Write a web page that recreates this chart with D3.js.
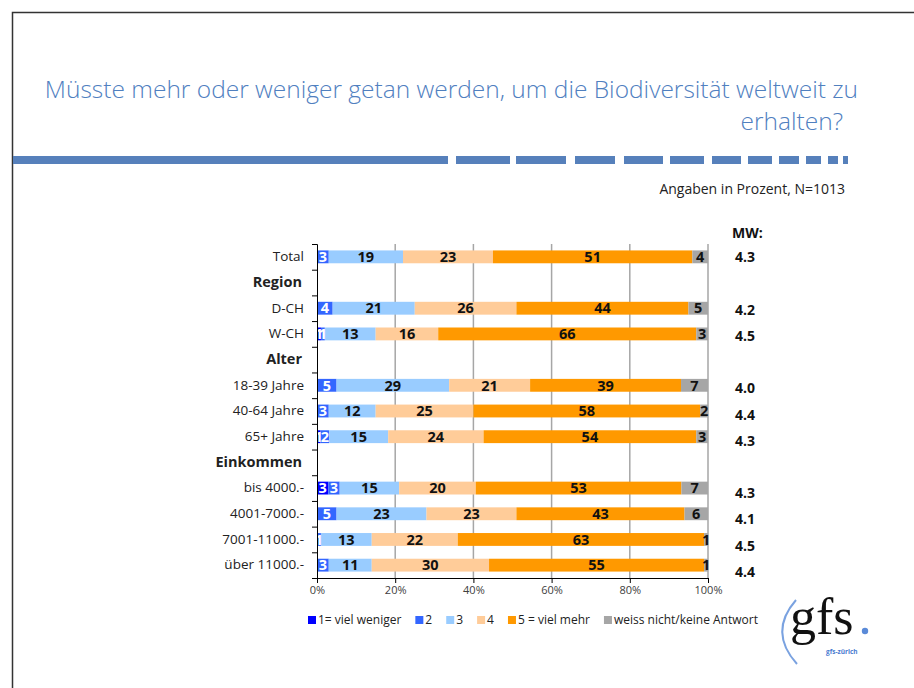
<!DOCTYPE html>
<html>
<head>
<meta charset="utf-8">
<script src="https://cdn.jsdelivr.net/npm/d3@7"></script>
<style>
    body { margin: 0; background: #fff; }
    svg { display: block; font-family: "Open Sans", "Noto Sans", sans-serif; }
</style>
</head>
<body>
<svg id="chart" width="914" height="688"></svg>
<script>
// categories, header rows carry no bars
var categories = ["Total", "Region", "D-CH", "W-CH", "Alter", "18-39 Jahre", "40-64 Jahre", "65+ Jahre",
    "Einkommen", "bis 4000.-", "4001-7000.-", "7001-11000.-", "über 11000.-"];
var headers = ["Region", "Alter", "Einkommen"];

var seriesNames = ["1= viel weniger", "2", "3", "4", "5 = viel mehr", "weiss nicht/keine Antwort"];
var seriesColors = ["#0000ff", "#3366ff", "#99ccff", "#ffcc99", "#ff9900", "#a6a6a6"];

var vielWeniger = [0, null, 0, 1, null, 0, 0, 0.9, null, 2.9, 0, 0, 0];
var eherWeniger = [3, null, 4, 1, null, 5, 3, 2.2, null, 2.9, 5, 1, 3];
var gleich      = [19, null, 21, 13, null, 28.8, 12, 15.1, null, 15.2, 23, 13, 11];
var eherMehr    = [23, null, 26, 16, null, 20.7, 25, 24.4, null, 19.6, 23, 22, 30];
var vielMehr    = [51, null, 44, 66, null, 38.6, 58, 54.4, null, 52.6, 43, 63, 55];
var weissNicht  = [4, null, 5, 3, null, 6.9, 2, 3, null, 6.8, 6, 1, 1];

var mittelwerte = ["4.3", null, "4.2", "4.5", null, "4.0", "4.4", "4.3", null, "4.3", "4.1", "4.5", "4.4"];
var xTicks = [0, 20, 40, 60, 80, 100];

var titleLines = ["Müsste mehr oder weniger getan werden, um die Biodiversität weltweit zu", "erhalten?"];
var subtitle = "Angaben in Prozent, N=1013";

(function () {
    var svg = d3.select("#chart");
    var blue = "#5080bf";

    // frame of the slide
    svg.append("path")
        .attr("d", "M12.5,688 V12.5 H914")
        .attr("fill", "none")
        .attr("stroke", "#333")
        .attr("stroke-width", 1.5);

    // title
    svg.append("text").attr("x", 858).attr("y", 98)
        .attr("text-anchor", "end").attr("font-size", 24.5).attr("font-weight", 300)
        .attr("fill", blue).text(titleLines[0]);
    svg.append("text").attr("x", 843).attr("y", 130)
        .attr("text-anchor", "end").attr("font-size", 24.5).attr("font-weight", 300)
        .attr("fill", blue).text(titleLines[1]);

    // dashed rule under the title
    var dashes = [[13, 448], [456, 510], [516, 566], [575, 615], [624, 663], [670, 704],
        [712, 741], [748, 772], [779, 799], [806, 821], [828, 838], [843, 848]];
    svg.append("g").selectAll("rect").data(dashes).enter().append("rect")
        .attr("x", function (d) { return d[0]; })
        .attr("width", function (d) { return d[1] - d[0]; })
        .attr("y", 156).attr("height", 8)
        .attr("fill", "#5680bb");

    svg.append("text").attr("x", 845).attr("y", 194)
        .attr("text-anchor", "end").attr("font-size", 14).attr("fill", "#222")
        .text(subtitle);

    // scales
    var x = d3.scaleLinear().domain([0, 100]).range([317, 708]);
    var y = d3.scaleBand().domain(categories).range([244, 578]).paddingInner(0.5).paddingOuter(0.25);
    var yTicks = d3.scaleLinear().domain([0, categories.length]).range([244, 578]);
    var yMw = d3.scaleBand().domain(categories).range([244, 585]);

    // gridlines
    svg.append("g").selectAll("line").data(xTicks.slice(1)).enter().append("line")
        .attr("x1", function (d) { return x(d); }).attr("x2", function (d) { return x(d); })
        .attr("y1", 244).attr("y2", 578)
        .attr("stroke", "#a6a6a6").attr("stroke-width", 1.5);

    // stacked bars
    var series = [vielWeniger, eherWeniger, gleich, eherMehr, vielMehr, weissNicht];
    var rows = categories.map(function (c, i) {
        var row = {cat: c};
        series.forEach(function (s, k) { row["s" + k] = s[i] || 0; });
        row.empty = headers.indexOf(c) >= 0;
        return row;
    });
    var stack = d3.stack().keys(series.map(function (s, k) { return "s" + k; }));
    var layers = stack(rows.filter(function (r) { return !r.empty; }));
    var fmt = d3.format(".0f");

    var g = svg.append("g").selectAll("g").data(layers).enter().append("g")
        .attr("fill", function (d, k) { return seriesColors[k]; });
    g.selectAll("rect").data(function (d) { return d; }).enter().append("rect")
        .attr("x", function (d) { return x(d[0]); })
        .attr("width", function (d) { return x(d[1]) - x(d[0]); })
        .attr("y", function (d) { return y(d.data.cat); })
        .attr("height", y.bandwidth());

    var lbl = svg.append("g").attr("font-size", 14.5).attr("font-weight", 700).attr("text-anchor", "middle");
    layers.forEach(function (layer, k) {
        lbl.append("g").attr("fill", k < 2 ? "#fff" : "#111")
            .selectAll("text").data(layer.filter(function (d) { return d[1] - d[0] >= 0.5; }))
            .enter().append("text")
            .attr("x", function (d) { return (x(d[0]) + x(d[1])) / 2; })
            .attr("y", function (d) { return y(d.data.cat) + y.bandwidth() / 2; })
            .attr("dy", "0.36em")
            .text(function (d) { return fmt(d[1] - d[0]); });
    });

    // y axis
    svg.append("g").attr("transform", "translate(317,0)")
        .call(d3.axisLeft(yTicks).tickValues(d3.range(categories.length + 1)).tickSize(5).tickFormat(""))
        .call(function (a) { a.selectAll("path,line").attr("stroke", "#000"); });
    var yl = svg.append("g").attr("transform", "translate(317,0)")
        .call(d3.axisLeft(y).tickSize(0).tickPadding(13));
    yl.select(".domain").remove();
    yl.selectAll("text").attr("fill", "#222")
        .attr("font-family", "\"Open Sans\", sans-serif")
        .attr("font-weight", function (d) { return headers.indexOf(d) >= 0 ? 700 : 400; })
        .attr("font-size", function (d) { return headers.indexOf(d) >= 0 ? 14.5 : 13.5; })
        .attr("dx", function (d) { return headers.indexOf(d) >= 0 ? -2 : 0; });

    // x axis
    var xa = svg.append("g").attr("transform", "translate(0,578)")
        .call(d3.axisBottom(x).tickValues(xTicks).tickSize(5).tickSizeOuter(0).tickPadding(3)
            .tickFormat(function (d) { return d + "%"; }));
    xa.selectAll("path,line").attr("stroke", "#000");
    xa.selectAll("text").attr("font-size", 11).attr("fill", "#404040")
        .attr("font-family", "\"Open Sans\", sans-serif");

    // mean values
    svg.append("text").attr("x", 732).attr("y", 238)
        .attr("font-size", 14).attr("font-weight", 700).attr("fill", "#111").text("MW:");
    svg.append("g").selectAll("text")
        .data(categories.filter(function (c, i) { return mittelwerte[i] !== null; }))
        .enter().append("text")
        .attr("x", 735)
        .attr("y", function (c) { return yMw(c) + yMw.bandwidth() / 2; })
        .attr("dy", "0.36em")
        .attr("font-size", 14).attr("font-weight", 700).attr("fill", "#111")
        .text(function (c) { return mittelwerte[categories.indexOf(c)]; });

    // legend
    var legend = svg.append("g").attr("font-size", 12).attr("fill", "#222");
    var lx = 308;
    seriesNames.forEach(function (name, k) {
        legend.append("rect").attr("x", lx).attr("y", 616).attr("width", 8).attr("height", 8)
            .attr("fill", seriesColors[k]);
        var t = legend.append("text").attr("x", lx + 10).attr("y", 620).attr("dy", "0.36em").text(name);
        lx += 10 + t.node().getComputedTextLength() + 14;
    });

    // gfs logo
    var logo = svg.append("g");
    logo.append("path").attr("d", "M796,600 Q768,632 797,664")
        .attr("fill", "none").attr("stroke", "#7aa2e0").attr("stroke-width", 2);
    logo.append("text").attr("x", 790).attr("y", 634)
        .attr("font-family", "\"Liberation Serif\", \"DejaVu Serif\", serif")
        .attr("font-size", 52).attr("fill", "#111").text("gfs");
    logo.append("circle").attr("cx", 865).attr("cy", 631).attr("r", 3.2).attr("fill", "#5a8ad8");
    logo.append("text").attr("x", 826).attr("y", 654)
        .attr("font-size", 6.5).attr("font-weight", 700).attr("fill", "#4a7ad0").text("gfs-zürich");
})();
</script>
</body>
</html>
